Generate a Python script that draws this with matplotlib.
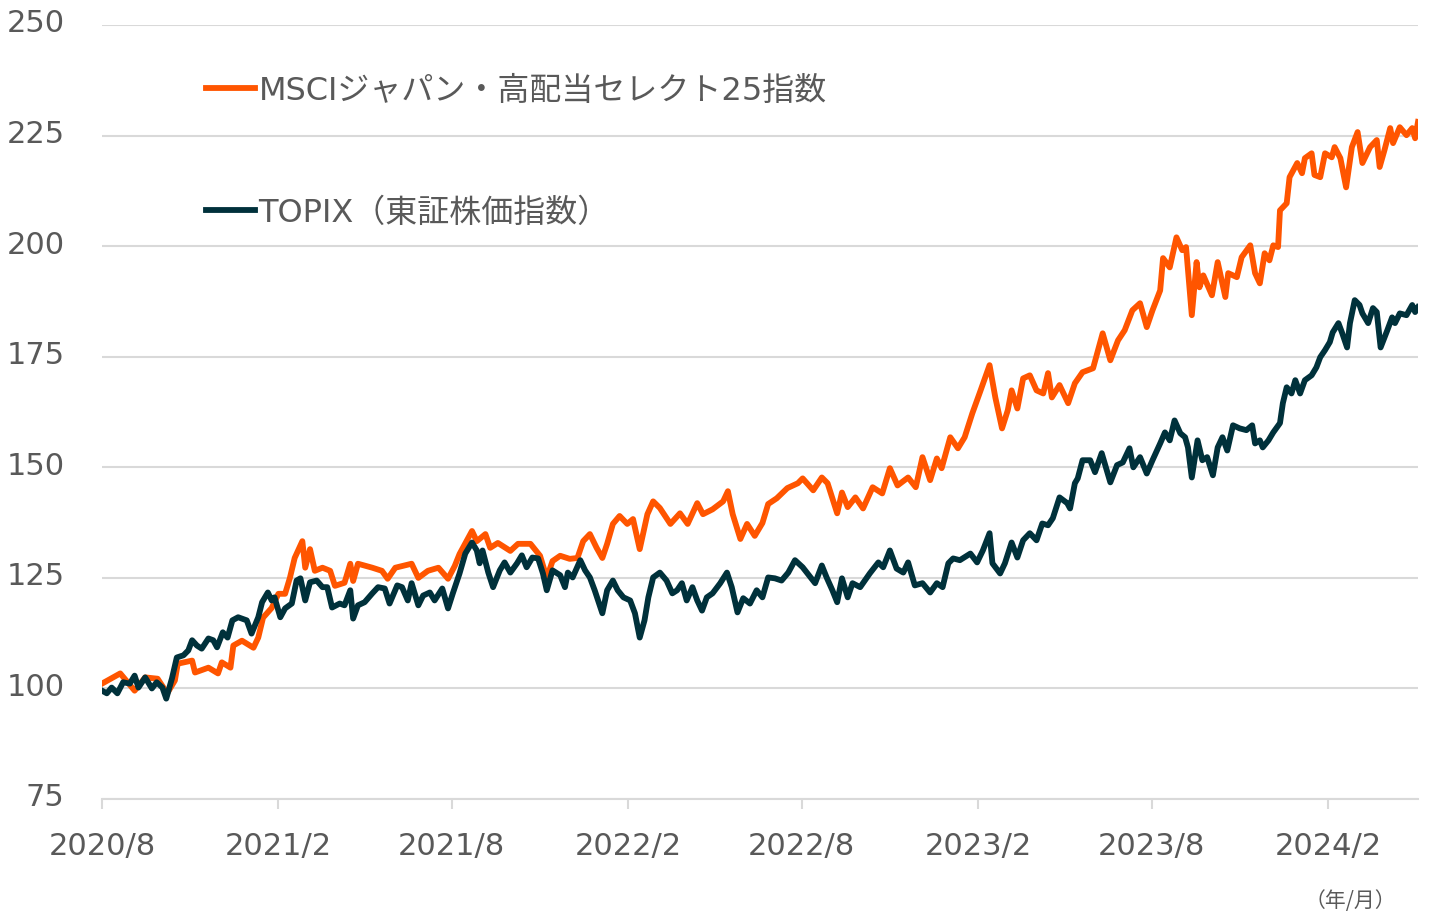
import numpy as np
import pandas as pd
import matplotlib
matplotlib.use("Agg")
import matplotlib.pyplot as plt
import matplotlib.transforms as mtransforms

plt.rcParams['font.family'] = ['DejaVu Sans', 'Noto Sans CJK JP']

# days since 2020-08-01 and index level (start = 100)
msci_days = [0, 19, 34, 45, 58, 68, 76, 79, 94, 97, 111, 121, 125, 134, 137, 146, 158, 163, 168,
             177, 184, 191, 196, 201, 209, 212, 217, 222, 230, 238, 243, 253, 259, 262, 267, 282,
             292, 298, 306, 323, 330, 340, 351, 361, 368, 373, 386, 391, 400, 405, 413, 426, 434,
             447, 457, 464, 470, 478, 488, 496, 502, 509, 516, 522, 527, 533, 540, 548, 554, 561,
             569, 575, 582, 593, 603, 611, 621, 627, 637, 648, 653, 658, 666, 673, 681, 689, 695,
             704, 715, 726, 731, 742, 751, 757, 767, 772, 778, 786, 794, 804, 814, 822, 830, 841,
             849, 856, 864, 871, 876, 885, 893, 900, 908, 916, 926, 932, 939, 945, 949, 955, 961,
             968, 975, 982, 987, 991, 999, 1008, 1015, 1023, 1034, 1044, 1052, 1060, 1067, 1075,
             1083, 1090, 1096, 1104, 1107, 1114, 1121, 1127, 1131, 1133, 1137, 1142, 1145, 1149,
             1158, 1164, 1172, 1175, 1184, 1189, 1198, 1203, 1208, 1213, 1218, 1222, 1227, 1229,
             1236, 1239, 1247, 1252, 1255, 1262, 1265, 1271, 1276, 1283, 1286, 1292, 1298, 1304,
             1310, 1315, 1323, 1330, 1333, 1338, 1344, 1347, 1354, 1361, 1367, 1370, 1373]
msci = [101.1, 103.4, 99.5, 102.5, 102.2, 98.9, 101.8, 105.6, 106.3, 103.6, 104.7, 103.4, 105.9,
        104.7, 109.7, 110.8, 109.2, 111.5, 116.0, 118.2, 121.4, 121.4, 125.0, 129.5, 133.3, 127.3,
        131.5, 126.6, 127.3, 126.6, 123.2, 123.9, 128.2, 124.3, 128.2, 127.3, 126.6, 124.8, 127.3,
        128.2, 125.0, 126.6, 127.3, 124.8, 127.7, 130.4, 135.6, 133.3, 134.9, 131.8, 132.9, 131.1,
        132.7, 132.7, 130.0, 125.0, 128.8, 130.0, 129.3, 129.5, 133.3, 134.9, 131.8, 129.5, 132.7,
        137.2, 139.0, 137.2, 138.3, 131.5, 139.4, 142.3, 140.8, 137.2, 139.6, 137.2, 141.9, 139.4,
        140.5, 142.3, 144.6, 139.4, 133.8, 137.2, 134.5, 137.4, 141.7, 143.0, 145.3, 146.4, 147.5,
        144.8, 147.7, 146.4, 139.6, 144.3, 141.0, 143.2, 140.7, 145.5, 144.1, 149.8, 145.9, 147.7,
        145.5, 152.3, 147.1, 152.0, 149.8, 156.8, 154.3, 156.8, 162.2, 167.0, 173.1, 165.8, 158.8,
        162.9, 167.4, 163.3, 170.1, 170.8, 167.4, 166.7, 171.3, 165.8, 168.6, 164.5, 169.0, 171.5,
        172.4, 180.3, 174.2, 178.7, 181.0, 185.5, 187.1, 181.7, 185.5, 190.0, 197.3, 195.2, 202.0,
        199.1, 199.8, 194.6, 184.4, 196.4, 190.7, 193.4, 188.9, 196.4, 188.5, 193.9, 193.0, 197.5,
        200.2, 193.9, 191.6, 198.4, 196.8, 200.2, 199.8, 208.1, 209.7, 215.6, 218.8, 216.5, 219.9,
        221.0, 216.1, 215.6, 221.0, 220.1, 222.4, 219.9, 213.3, 222.4, 225.8, 218.8, 222.4, 224.0,
        217.9, 221.7, 226.7, 223.3, 226.9, 225.1, 226.7, 224.4, 228.1]

topix_days = [0, 5, 10, 16, 22, 29, 34, 38, 45, 52, 57, 63, 67, 73, 78, 85, 90, 94, 99, 104, 111,
              116, 120, 126, 131, 136, 142, 151, 156, 163, 167, 173, 177, 180, 186, 191, 198, 203,
              207, 212, 217, 224, 230, 235, 240, 248, 253, 259, 262, 267, 274, 282, 288, 295, 300,
              308, 313, 319, 323, 330, 335, 342, 347, 355, 361, 366, 373, 379, 386, 391, 394, 397,
              403, 408, 415, 420, 426, 433, 438, 443, 449, 455, 460, 464, 470, 478, 483, 486, 491,
              499, 504, 509, 514, 522, 527, 533, 538, 544, 551, 556, 561, 566, 570, 575, 582, 589,
              595, 600, 605, 610, 616, 621, 626, 631, 637, 645, 652, 657, 663, 669, 676, 683, 689,
              695, 702, 709, 716, 723, 731, 736, 744, 751, 756, 762, 767, 772, 778, 783, 791, 801,
              810, 815, 822, 829, 836, 841, 848, 856, 864, 871, 877, 883, 888, 895, 906, 913, 919,
              926, 929, 937, 942, 949, 955, 961, 968, 975, 981, 987, 992, 999, 1007, 1010, 1015,
              1018, 1023, 1031, 1036, 1043, 1052, 1059, 1065, 1072, 1076, 1083, 1090, 1096, 1104,
              1109, 1114, 1119, 1125, 1130, 1133, 1137, 1143, 1148, 1153, 1159, 1164, 1169, 1174,
              1180, 1187, 1194, 1200, 1203, 1208, 1211, 1217, 1222, 1229, 1232, 1236, 1241, 1245,
              1250, 1255, 1262, 1267, 1271, 1276, 1281, 1284, 1290, 1294, 1299, 1302, 1307, 1312,
              1315, 1321, 1326, 1330, 1334, 1341, 1346, 1349, 1354, 1361, 1367, 1370, 1373]
topix = [99.5, 98.9, 100.2, 98.9, 101.4, 101.1, 102.9, 100.2, 102.5, 100.0, 101.4, 100.2, 97.7,
         102.3, 107.0, 107.5, 108.6, 110.9, 109.7, 109.0, 111.3, 110.9, 109.3, 112.7, 111.5, 115.4,
         116.1, 115.4, 112.4, 116.1, 119.5, 121.7, 119.9, 120.6, 116.1, 118.1, 119.2, 124.4, 124.9,
         119.9, 124.0, 124.4, 122.9, 122.9, 118.3, 119.2, 118.8, 122.2, 115.8, 118.8, 119.5, 121.5,
         122.9, 122.6, 119.2, 123.3, 122.9, 119.9, 123.8, 118.8, 121.0, 121.7, 119.9, 122.6, 118.1,
         121.5, 126.0, 130.5, 133.0, 131.2, 128.3, 131.2, 126.2, 122.9, 126.7, 128.5, 126.2, 128.3,
         130.1, 127.4, 129.6, 129.4, 126.0, 122.2, 126.7, 125.6, 122.9, 126.2, 125.1, 129.0, 126.7,
         125.1, 122.2, 117.0, 122.2, 124.4, 122.2, 120.6, 119.9, 117.0, 111.5, 115.4, 120.6, 125.1,
         126.2, 124.4, 121.5, 122.2, 123.8, 119.9, 122.9, 119.9, 117.6, 120.6, 121.5, 123.8, 126.2,
         122.9, 117.2, 120.4, 119.2, 122.2, 120.6, 125.1, 124.9, 124.4, 126.2, 129.0, 127.4, 126.0,
         123.8, 127.8, 125.1, 122.2, 119.5, 124.9, 120.6, 123.8, 122.9, 126.0, 128.5, 127.4, 131.2,
         127.1, 126.2, 128.5, 123.3, 123.8, 121.7, 123.8, 122.9, 128.3, 129.4, 129.0, 130.5, 128.5,
         131.2, 135.1, 128.3, 126.0, 128.3, 133.0, 129.6, 133.5, 135.1, 133.5, 137.3, 136.9, 138.5,
         143.2, 141.9, 140.7, 146.4, 147.5, 151.6, 151.6, 148.9, 153.2, 146.6, 150.5, 151.1, 154.3,
         150.0, 152.3, 148.6, 151.6, 155.4, 157.9, 156.1, 160.6, 157.7, 156.8, 154.5, 147.7, 156.1,
         151.6, 152.3, 148.2, 154.5, 156.8, 153.8, 159.5, 158.8, 158.4, 159.5, 155.4, 156.1, 154.5,
         156.1, 157.9, 160.0, 164.5, 168.1, 166.7, 169.7, 166.7, 169.7, 170.8, 172.6, 174.9, 176.5,
         178.3, 180.5, 182.6, 180.3, 177.1, 182.6, 187.8, 186.7, 184.8, 182.6, 186.0, 185.1, 177.1,
         181.0, 183.9, 182.6, 184.8, 184.4, 186.7, 185.1, 186.2]

tick_dates = ['2020-08-01', '2021-02-01', '2021-08-01', '2022-02-01',
              '2022-08-01', '2023-02-01', '2023-08-01', '2024-02-01']
tick_labels = ['2020/8', '2021/2', '2021/8', '2022/2', '2022/8', '2023/2', '2023/8', '2024/2']

labels = ['MSCIジャパン・高配当セレクト25指数', 'TOPIX（東証株価指数）']
colors = ['#FF5500', '#00313B']

start = pd.Timestamp('2020-08-01')
msci_x = start + pd.to_timedelta(msci_days, unit='D')
topix_x = start + pd.to_timedelta(topix_days, unit='D')

fig = plt.figure(figsize=(14.29, 9.14), dpi=100)
ax = fig.add_axes([0.0714, 0.1258, 0.9209, 0.8468])

l1, = ax.plot(msci_x, msci, color=colors[0], lw=4.2, zorder=3, label=labels[0])
l2, = ax.plot(topix_x, topix, color=colors[1], lw=4.2, zorder=4, label=labels[1])

ax.set_ylim(75, 250)
ax.set_yticks(np.arange(75, 251, 25))
ax.set_xlim(start, topix_x[-1])
ax.set_xticks(pd.to_datetime(tick_dates))
ax.set_xticklabels(tick_labels)

ax.grid(axis='y', color='#d9d9d9', lw=1.5)
ax.set_axisbelow(True)
for s in ['top', 'right', 'left']:
    ax.spines[s].set_visible(False)
ax.spines['bottom'].set_color('#d9d9d9')
ax.spines['bottom'].set_linewidth(1.5)
ax.tick_params(axis='y', length=0, pad=27, labelsize=22, labelcolor='#595959')
# nudge y labels up a little, as in the original
shift = mtransforms.ScaledTranslation(0, 3 / 72, fig.dpi_scale_trans)
for t in ax.get_yticklabels():
    t.set_transform(t.get_transform() + shift)
ax.tick_params(axis='x', length=7, width=1.5, color='#d9d9d9', pad=17,
               labelsize=22, labelcolor='#595959')

leg = ax.legend(handles=[l1, l2], loc='upper left', bbox_to_anchor=(0.057, 0.972),
                frameon=False, fontsize=23, labelcolor='#595959',
                handlelength=1.55, handletextpad=0.1, labelspacing=2.85)

fig.text(0.977, 0.008, '（年/月）', fontsize=15, color='#595959', ha='right',
         family=['Noto Sans CJK JP', 'DejaVu Sans'])

fig.savefig('out.png', dpi=100)
